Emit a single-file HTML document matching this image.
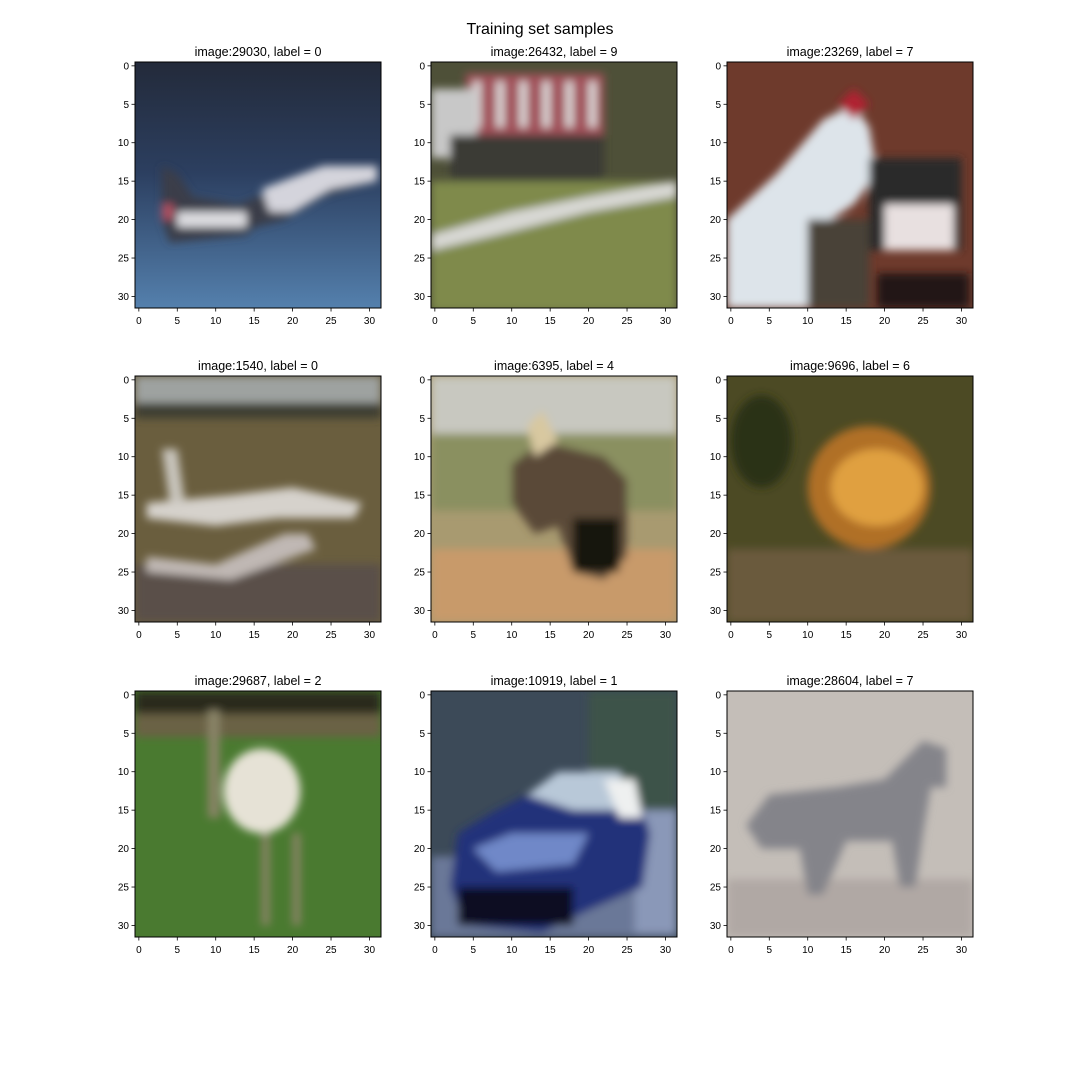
<!DOCTYPE html>
<html><head><meta charset="utf-8"><style>
html,body{margin:0;padding:0;background:#fff}
svg text{font-family:"Liberation Sans","DejaVu Sans",sans-serif}
</style></head><body>
<svg id="fig" width="1080" height="1080" viewBox="0 0 1080 1080" xmlns="http://www.w3.org/2000/svg">
<rect width="1080" height="1080" fill="#fff"/>
<defs><filter id="bl" x="-10%" y="-10%" width="120%" height="120%"><feGaussianBlur stdDeviation="0.55"/></filter></defs>
<text x="540" y="34" text-anchor="middle" font-size="16" fill="#000">Training set samples</text>
</svg>
<script>
const imageIds = [29030, 26432, 23269, 1540, 6395, 9696, 29687, 10919, 28604];
const labels = [0, 9, 7, 0, 4, 6, 2, 1, 7];
const tickVals = [0, 5, 10, 15, 20, 25, 30];
const imgSize = 32;

const colLeft = [135, 431, 727];
const rowTop = [62, 376, 691];
const W = 246;

// rough pictorial content per panel (image pixel coordinates)
const art = [
`<defs><linearGradient id="g0" x1="0" y1="0" x2="0" y2="1"><stop offset="0" stop-color="#232a3a"/><stop offset="0.45" stop-color="#2c3f60"/><stop offset="1" stop-color="#5480ad"/></linearGradient></defs>
<rect x="-0.5" y="-0.5" width="32" height="32" fill="url(#g0)"/>
<g filter="url(#bl)"><polygon points="3,13 5,14 7,17 13,18 18,16 25,13 31,13 31,15 24,17 19,20 15,21 14,22 4,23 3,20" fill="#3a3e48"/>
<polygon points="16,16 24,13 31,13 31,15 25,16 20,19 17,19" fill="#d4d4dc"/>
<polygon points="5,19 14,19 14,21 5,21" fill="#dcdce0"/><rect x="3" y="18" width="1.5" height="2" fill="#b05060"/></g>`,
`<rect x="-0.5" y="-0.5" width="32" height="32" fill="#4e5038"/>
<g filter="url(#bl)"><rect x="-0.5" y="15" width="32" height="17" fill="#7f8a4c"/>
<polygon points="-0.5,22 10,19 20,17 31.5,15 31.5,17 20,19 8,22 -0.5,24" fill="#d8d8d4"/>
<rect x="4" y="1" width="18" height="8" fill="#a05058"/>
<g fill="#e0dcdc"><rect x="5" y="2" width="1" height="6"/><rect x="8" y="2" width="1" height="6"/><rect x="11" y="2" width="1" height="6"/><rect x="14" y="2" width="1" height="6"/><rect x="17" y="2" width="1" height="6"/><rect x="20" y="2" width="1" height="6"/></g>
<rect x="-0.5" y="3" width="6" height="9" fill="#c8c8c8"/><rect x="2" y="9" width="20" height="6" fill="#3a3a34"/></g>`,
`<rect x="-0.5" y="-0.5" width="32" height="32" fill="#6e3a2c"/>
<g filter="url(#bl)"><polygon points="-0.5,20 6,14 12,7 16,5 18,8 19,14 16,18 13,20 10,31.5 -0.5,31.5" fill="#dde4ea"/>
<polygon points="14,5 16,3 18,5 16,7" fill="#b02030"/><rect x="18" y="12" width="12" height="12" fill="#2a2a2a"/>
<rect x="20" y="18" width="9" height="6" fill="#e8e0e0"/><rect x="19" y="27" width="12" height="4.5" fill="#201818"/><rect x="10" y="20" width="8" height="11.5" fill="#4a4238"/></g>`,
`<rect x="-0.5" y="-0.5" width="32" height="32" fill="#6a5e3e"/>
<g filter="url(#bl)"><rect x="-0.5" y="-0.5" width="32" height="3.5" fill="#9ea2a0"/><rect x="-0.5" y="3" width="32" height="2" fill="#3c3e30"/>
<rect x="-0.5" y="24" width="32" height="7.5" fill="#5a5048"/>
<polygon points="1,16 12,15 20,14 29,16 28,18 18,18 10,19 1,18" fill="#d6d2cc"/>
<polygon points="3,9 5,9 6,16 4,16" fill="#c8c4bc"/><polygon points="10,24 19,20 22,20 23,22 12,26 1,25 1,23" fill="#c0b8b4"/></g>`,
`<rect x="-0.5" y="-0.5" width="32" height="32" fill="#a89a70"/>
<g filter="url(#bl)"><rect x="-0.5" y="-0.5" width="32" height="8" fill="#c8c8c0"/><rect x="-0.5" y="7" width="32" height="10" fill="#8a9060"/>
<rect x="-0.5" y="22" width="32" height="9.5" fill="#c89a6a"/>
<polygon points="10,11 14,8 22,10 25,13 25,23 22,26 18,25 16,19 13,20 10,16" fill="#5a4838"/><rect x="18" y="18" width="6" height="7" fill="#141410"/>
<polygon points="12,6 14,4 16,8 13,10" fill="#d8c8a0"/></g>`,
`<rect x="-0.5" y="-0.5" width="32" height="32" fill="#4c4a24"/>
<g filter="url(#bl)"><ellipse cx="18" cy="14" rx="8" ry="8" fill="#b07028"/><ellipse cx="19" cy="14" rx="6" ry="5" fill="#e0a040"/>
<rect x="-0.5" y="22" width="32" height="9.5" fill="#6a5a3c"/><ellipse cx="4" cy="8" rx="4" ry="6" fill="#2a3018"/></g>`,
`<rect x="-0.5" y="-0.5" width="32" height="32" fill="#4a7a30"/>
<g filter="url(#bl)"><rect x="-0.5" y="-0.5" width="32" height="3" fill="#2c2a1c"/><rect x="-0.5" y="2.5" width="32" height="3" fill="#6a6244"/>
<rect x="9" y="2" width="1.5" height="14" fill="#8a8468"/><rect x="16" y="18" width="1" height="12" fill="#8a8468"/><rect x="20" y="18" width="1" height="12" fill="#8a8468"/>
<ellipse cx="16" cy="12.5" rx="5" ry="5.5" fill="#e6e2d6"/></g>`,
`<rect x="-0.5" y="-0.5" width="32" height="32" fill="#3c4a58"/>
<g filter="url(#bl)"><rect x="20" y="-0.5" width="11.5" height="16" fill="#3c5248"/><rect x="-0.5" y="21" width="32" height="10.5" fill="#6a7898"/>
<rect x="26" y="15" width="5.5" height="16" fill="#8a98b8"/>
<polygon points="3,18 8,15 12,13 16,10 22,10 26,12 28,18 27,25 20,28 14,31 4,30 2,25" fill="#24307a"/>
<polygon points="12,13 16,10 24,10 26,15 18,15" fill="#b8c8d8"/><polygon points="22,11 26,11 27,16 24,16" fill="#eef0f0"/>
<polygon points="5,20 10,18 20,18 18,22 8,23" fill="#7088c8"/><rect x="3" y="25" width="15" height="5" fill="#0c0e20"/></g>`,
`<rect x="-0.5" y="-0.5" width="32" height="32" fill="#c4beb8"/>
<g filter="url(#bl)"><rect x="-0.5" y="24" width="32" height="7.5" fill="#b0a8a4"/>
<polygon points="5,13 14,12 20,11 25,6 28,7 28,12 26,12 25,18 24,25 22,25 21,19 15,19 12,26 10,26 9,20 4,20 2,17" fill="#84848a"/></g>`
];

const svg = document.getElementById('fig');
const NS = 'http://www.w3.org/2000/svg';
function sx(left, v){ return left + (v + 0.5) * W / imgSize; }
function sy(top, v){ return top + (v + 0.5) * W / imgSize; }

for (let i = 0; i < 9; i++) {
  const L = colLeft[i % 3], T = rowTop[Math.floor(i / 3)];
  const g = document.createElementNS(NS, 'g');
  
  
  let h = `<text x="${L + W/2}" y="${T - 6}" text-anchor="middle" font-size="12.5" fill="#000">image:${imageIds[i]}, label = ${labels[i]}</text>`;
  h += `<svg x="${L}" y="${T}" width="${W}" height="${W}" viewBox="-0.5 -0.5 32 32" preserveAspectRatio="none">${art[i].replace(/id="g0"/,'id="g0_'+i+'"').replace(/url\(#g0\)/,'url(#g0_'+i+')')}</svg>`;
  h += `<rect x="${L}" y="${T}" width="${W}" height="${W}" fill="none" stroke="#000" stroke-width="1"/>`;
  for (const v of tickVals) {
    const x = sx(L, v), y = sy(T, v);
    h += `<line x1="${x}" y1="${T+W}" x2="${x}" y2="${T+W+3.5}" stroke="#000" stroke-width="0.8"/>`;
    h += `<text x="${x}" y="${T+W+16}" text-anchor="middle" font-size="10" fill="#000">${v}</text>`;
    h += `<line x1="${L-3.5}" y1="${y}" x2="${L}" y2="${y}" stroke="#000" stroke-width="0.8"/>`;
    h += `<text x="${L-6}" y="${y+3.5}" text-anchor="end" font-size="10" fill="#000">${v}</text>`;
  }
  g.innerHTML = h;
  svg.appendChild(g);
}
</script>
</body></html>
